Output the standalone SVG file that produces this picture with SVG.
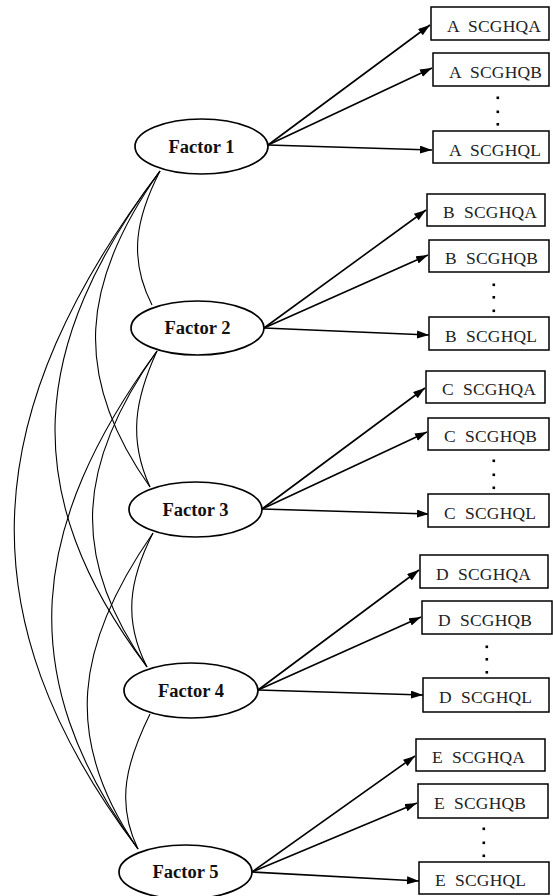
<svg xmlns="http://www.w3.org/2000/svg" width="553" height="896" viewBox="0 0 553 896">
  <style>
    .factor ellipse { fill: #fff; stroke: #000; stroke-width: 1.7; }
    .factor text { font-family: "Liberation Serif", "Times New Roman", serif; font-weight: bold; font-size: 18.5px; text-anchor: middle; fill: #111; }
    .item rect { fill: #fff; stroke: #000; stroke-width: 1.5; }
    .item text { font-family: "Liberation Serif", "Times New Roman", serif; font-size: 17.5px; letter-spacing: 0.2px; white-space: pre; fill: #222; }
    .corr path { fill: none; stroke: #000; stroke-width: 1.1; }
    .load line { stroke: #000; stroke-width: 1.6; marker-end: url(#arrow); }
    .dots rect { fill: #000; }
  </style>
  <defs>
    <marker id="arrow" markerUnits="userSpaceOnUse" markerWidth="13" markerHeight="9" refX="12" refY="4" orient="auto">
      <path d="M0,0 L12,4 L0,8 z" fill="#000"/>
    </marker>
  </defs>

  <rect width="553" height="896" fill="#fff"/>

  <!-- correlations between factors -->
  <g id="correlations" class="corr">
    <path d="M160,171 C136,218 128,258 152,305"/>
    <path d="M157,351 C135,399 128,439 150,487"/>
    <path d="M153,533 C129,580 123,620 147,667"/>
    <path d="M150,714 C127,761 115,802 138,849"/>
    <path d="M160,171 C81,282 71,376 150,487"/>
    <path d="M160,171 C29,345 16,493 147,667"/>
    <path d="M160,171 C-19,408 -41,612 138,849"/>
    <path d="M157,351 C78,462 68,556 147,667"/>
    <path d="M157,351 C30,525 11,675 138,849"/>
    <path d="M153,533 C76,644 61,738 138,849"/>
  </g>

  <!-- loadings from factors to items -->
  <g id="loadings" class="load">
    <line x1="268" y1="145" x2="430" y2="25"/>
    <line x1="268" y1="145" x2="432" y2="68"/>
    <line x1="268" y1="145" x2="432" y2="150"/>
    <line x1="264" y1="328" x2="426" y2="210"/>
    <line x1="264" y1="328" x2="428" y2="255"/>
    <line x1="264" y1="328" x2="429" y2="335"/>
    <line x1="262" y1="509" x2="425" y2="388"/>
    <line x1="262" y1="509" x2="427" y2="432"/>
    <line x1="262" y1="509" x2="429" y2="514"/>
    <line x1="258" y1="690" x2="419" y2="570"/>
    <line x1="258" y1="690" x2="421" y2="617"/>
    <line x1="258" y1="690" x2="423" y2="695"/>
    <line x1="252" y1="872" x2="415" y2="756"/>
    <line x1="252" y1="872" x2="417" y2="803"/>
    <line x1="252" y1="872" x2="419" y2="881"/>
  </g>

  <!-- latent factors -->
  <g id="factor1" class="factor"><ellipse cx="201.5" cy="146.5" rx="66.5" ry="27.5"/><text x="201.5" y="152.5">Factor 1</text></g>
  <g id="factor2" class="factor"><ellipse cx="197.5" cy="328" rx="66.5" ry="27"/><text x="197.5" y="334">Factor 2</text></g>
  <g id="factor3" class="factor"><ellipse cx="195.5" cy="509.5" rx="66.5" ry="27.5"/><text x="195.5" y="515.5">Factor 3</text></g>
  <g id="factor4" class="factor"><ellipse cx="191" cy="690.5" rx="67" ry="27.5"/><text x="191" y="696.5">Factor 4</text></g>
  <g id="factor5" class="factor"><ellipse cx="185.5" cy="872" rx="66.5" ry="27"/><text x="185.5" y="878">Factor 5</text></g>

  <!-- observed items -->
  <g id="itemA1" class="item"><rect x="431" y="7" width="118" height="33"/><text x="447" y="32" xml:space="preserve">A  SCGHQA</text></g>
  <g id="itemA2" class="item"><rect x="433" y="53" width="116" height="33"/><text x="449" y="78" xml:space="preserve">A  SCGHQB</text></g>
  <g id="itemAL" class="item"><rect x="433" y="131" width="116" height="32"/><text x="449" y="156" xml:space="preserve">A  SCGHQL</text></g>

  <g id="itemB1" class="item"><rect x="427" y="194" width="118" height="32"/><text x="443" y="218" xml:space="preserve">B  SCGHQA</text></g>
  <g id="itemB2" class="item"><rect x="429" y="240" width="120" height="32"/><text x="445" y="264" xml:space="preserve">B  SCGHQB</text></g>
  <g id="itemBL" class="item"><rect x="429" y="317" width="120" height="33"/><text x="445" y="342" xml:space="preserve">B  SCGHQL</text></g>

  <g id="itemC1" class="item"><rect x="426" y="371" width="119" height="32"/><text x="442" y="395" xml:space="preserve">C  SCGHQA</text></g>
  <g id="itemC2" class="item"><rect x="428" y="418" width="121" height="32"/><text x="444" y="442" xml:space="preserve">C  SCGHQB</text></g>
  <g id="itemCL" class="item"><rect x="428" y="494" width="121" height="33"/><text x="444" y="519" xml:space="preserve">C  SCGHQL</text></g>

  <g id="itemD1" class="item"><rect x="420" y="555" width="128" height="33"/><text x="436" y="580" xml:space="preserve">D  SCGHQA</text></g>
  <g id="itemD2" class="item"><rect x="422" y="601" width="130" height="33"/><text x="438" y="626" xml:space="preserve">D  SCGHQB</text></g>
  <g id="itemDL" class="item"><rect x="423" y="678" width="126" height="34"/><text x="439" y="703" xml:space="preserve">D  SCGHQL</text></g>

  <g id="itemE1" class="item"><rect x="416" y="739" width="129" height="32"/><text x="432" y="763" xml:space="preserve">E  SCGHQA</text></g>
  <g id="itemE2" class="item"><rect x="418" y="784" width="130" height="34"/><text x="434" y="809" xml:space="preserve">E  SCGHQB</text></g>
  <g id="itemEL" class="item"><rect x="419" y="862" width="130" height="32"/><text x="435" y="886" xml:space="preserve">E  SCGHQL</text></g>

  <!-- vertical ellipsis between item B and item L -->
  <g id="ellipses" class="dots">
    <rect x="496.5" y="96.5" width="2.6" height="2.6"/><rect x="496.5" y="110.5" width="2.6" height="2.6"/><rect x="496.5" y="123" width="2.6" height="2.6"/>
    <rect x="492.5" y="283.5" width="2.6" height="2.6"/><rect x="492.5" y="296" width="2.6" height="2.6"/><rect x="492.5" y="309.5" width="2.6" height="2.6"/>
    <rect x="492.5" y="459.5" width="2.6" height="2.6"/><rect x="492.5" y="473.5" width="2.6" height="2.6"/><rect x="492.5" y="486.5" width="2.6" height="2.6"/>
    <rect x="485.5" y="645.5" width="2.6" height="2.6"/><rect x="485.5" y="658" width="2.6" height="2.6"/><rect x="485.5" y="671" width="2.6" height="2.6"/>
    <rect x="482.5" y="827.5" width="2.6" height="2.6"/><rect x="482.5" y="841.5" width="2.6" height="2.6"/><rect x="482.5" y="854.5" width="2.6" height="2.6"/>
  </g>
</svg>
